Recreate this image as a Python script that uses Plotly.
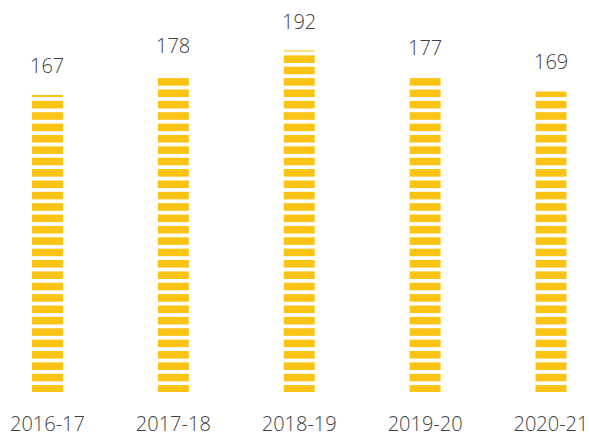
import plotly.graph_objects as go

# Values
years = ["2016-17", "2017-18", "2018-19", "2019-20", "2020-21"]
values = [167, 178, 192, 177, 169]

bar_yellow = "#FBC314"
text_grey = "#404040"

fig = go.Figure()

# striped bars: white background with yellow horizontal line pattern
fig.add_trace(go.Bar(
    x=years,
    y=values,
    width=0.246,
    marker=dict(
        color="white",
        line=dict(width=0),
        pattern=dict(shape="-", fillmode="replace", bgcolor="white",
                     fgcolor=bar_yellow, size=11.37, solidity=0.67),
    ),
    hoverinfo="skip",
))

# value labels above each bar
for yr, v in zip(years, values):
    fig.add_annotation(x=yr, y=v, text=str(v), showarrow=False,
                       yanchor="bottom", yshift=14,
                       font=dict(family="Open Sans", size=20, color=text_grey, weight=300))

fig.update_layout(
    width=589,
    height=434,
    margin=dict(l=0, r=0, t=7.855, b=41.5),
    plot_bgcolor="white",
    paper_bgcolor="white",
    showlegend=False,
    xaxis=dict(
        range=[-0.377, 4.302],
        automargin=False,
        showgrid=False, zeroline=False, showline=False,
        ticks="outside", ticklen=14, tickcolor="rgba(0,0,0,0)",
        tickfont=dict(family="Open Sans", size=20, color=text_grey, weight=300),
    ),
    yaxis=dict(range=[0, 215.92], visible=False),
)

# drop the default page margin so the chart sits at the window corner
fig.write_html("out.html", config={"displayModeBar": False},
               post_script="document.body.style.margin='0';")
